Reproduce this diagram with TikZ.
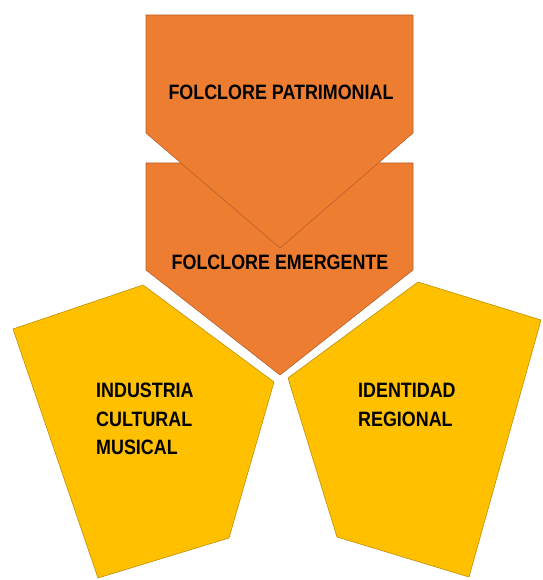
\documentclass[tikz,border=0pt]{standalone}
\usepackage{fontspec}
\newfontfamily\boxfont{Liberation Sans}[FakeStretch=0.86]
\definecolor{folkorange}{HTML}{ED7D31}
\definecolor{folkorangeline}{HTML}{B9612A}
\definecolor{folkyellow}{HTML}{FFC000}
\definecolor{folkyellowline}{HTML}{BF9000}

\begin{document}
\begin{tikzpicture}
[x=1pt,y=-1pt,
 orangebox/.style={fill=folkorange,draw=folkorangeline,line width=0.6pt},
 yellowbox/.style={fill=folkyellow,draw=folkyellowline,line width=0.6pt},
 boxtext/.style={inner sep=0pt,align=left,
   font=\boxfont\bfseries\fontsize{20.8}{28.5}\selectfont}]
\useasboundingbox (0,0) rectangle (542,580);
% lower chevron first, the upper one lies over it
\draw[orangebox] (146,163) -- (413,163) -- (413,270) -- (280,375) -- (146,270) -- cycle;
\draw[orangebox] (146,15) -- (413,15) -- (413,133) -- (280,248) -- (146,133) -- cycle;
% the two pentagons below
\draw[yellowbox] (13,329) -- (143,285) -- (274,382) -- (229,538) -- (98,578) -- cycle;
\draw[yellowbox] (288,378) -- (418,282) -- (541,320) -- (469,577) -- (337,537) -- cycle;
\node[boxtext,anchor=north](patrimonial) at (281,85){FOLCLORE PATRIMONIAL};
\node[boxtext,anchor=north](emergente) at (280,255){FOLCLORE EMERGENTE};
\node[boxtext,anchor=north west](industria) at (96,383){INDUSTRIA\\CULTURAL\\MUSICAL};
\node[boxtext,anchor=north west](identidad) at (358,383){IDENTIDAD\\REGIONAL};
\end{tikzpicture}
\end{document}
